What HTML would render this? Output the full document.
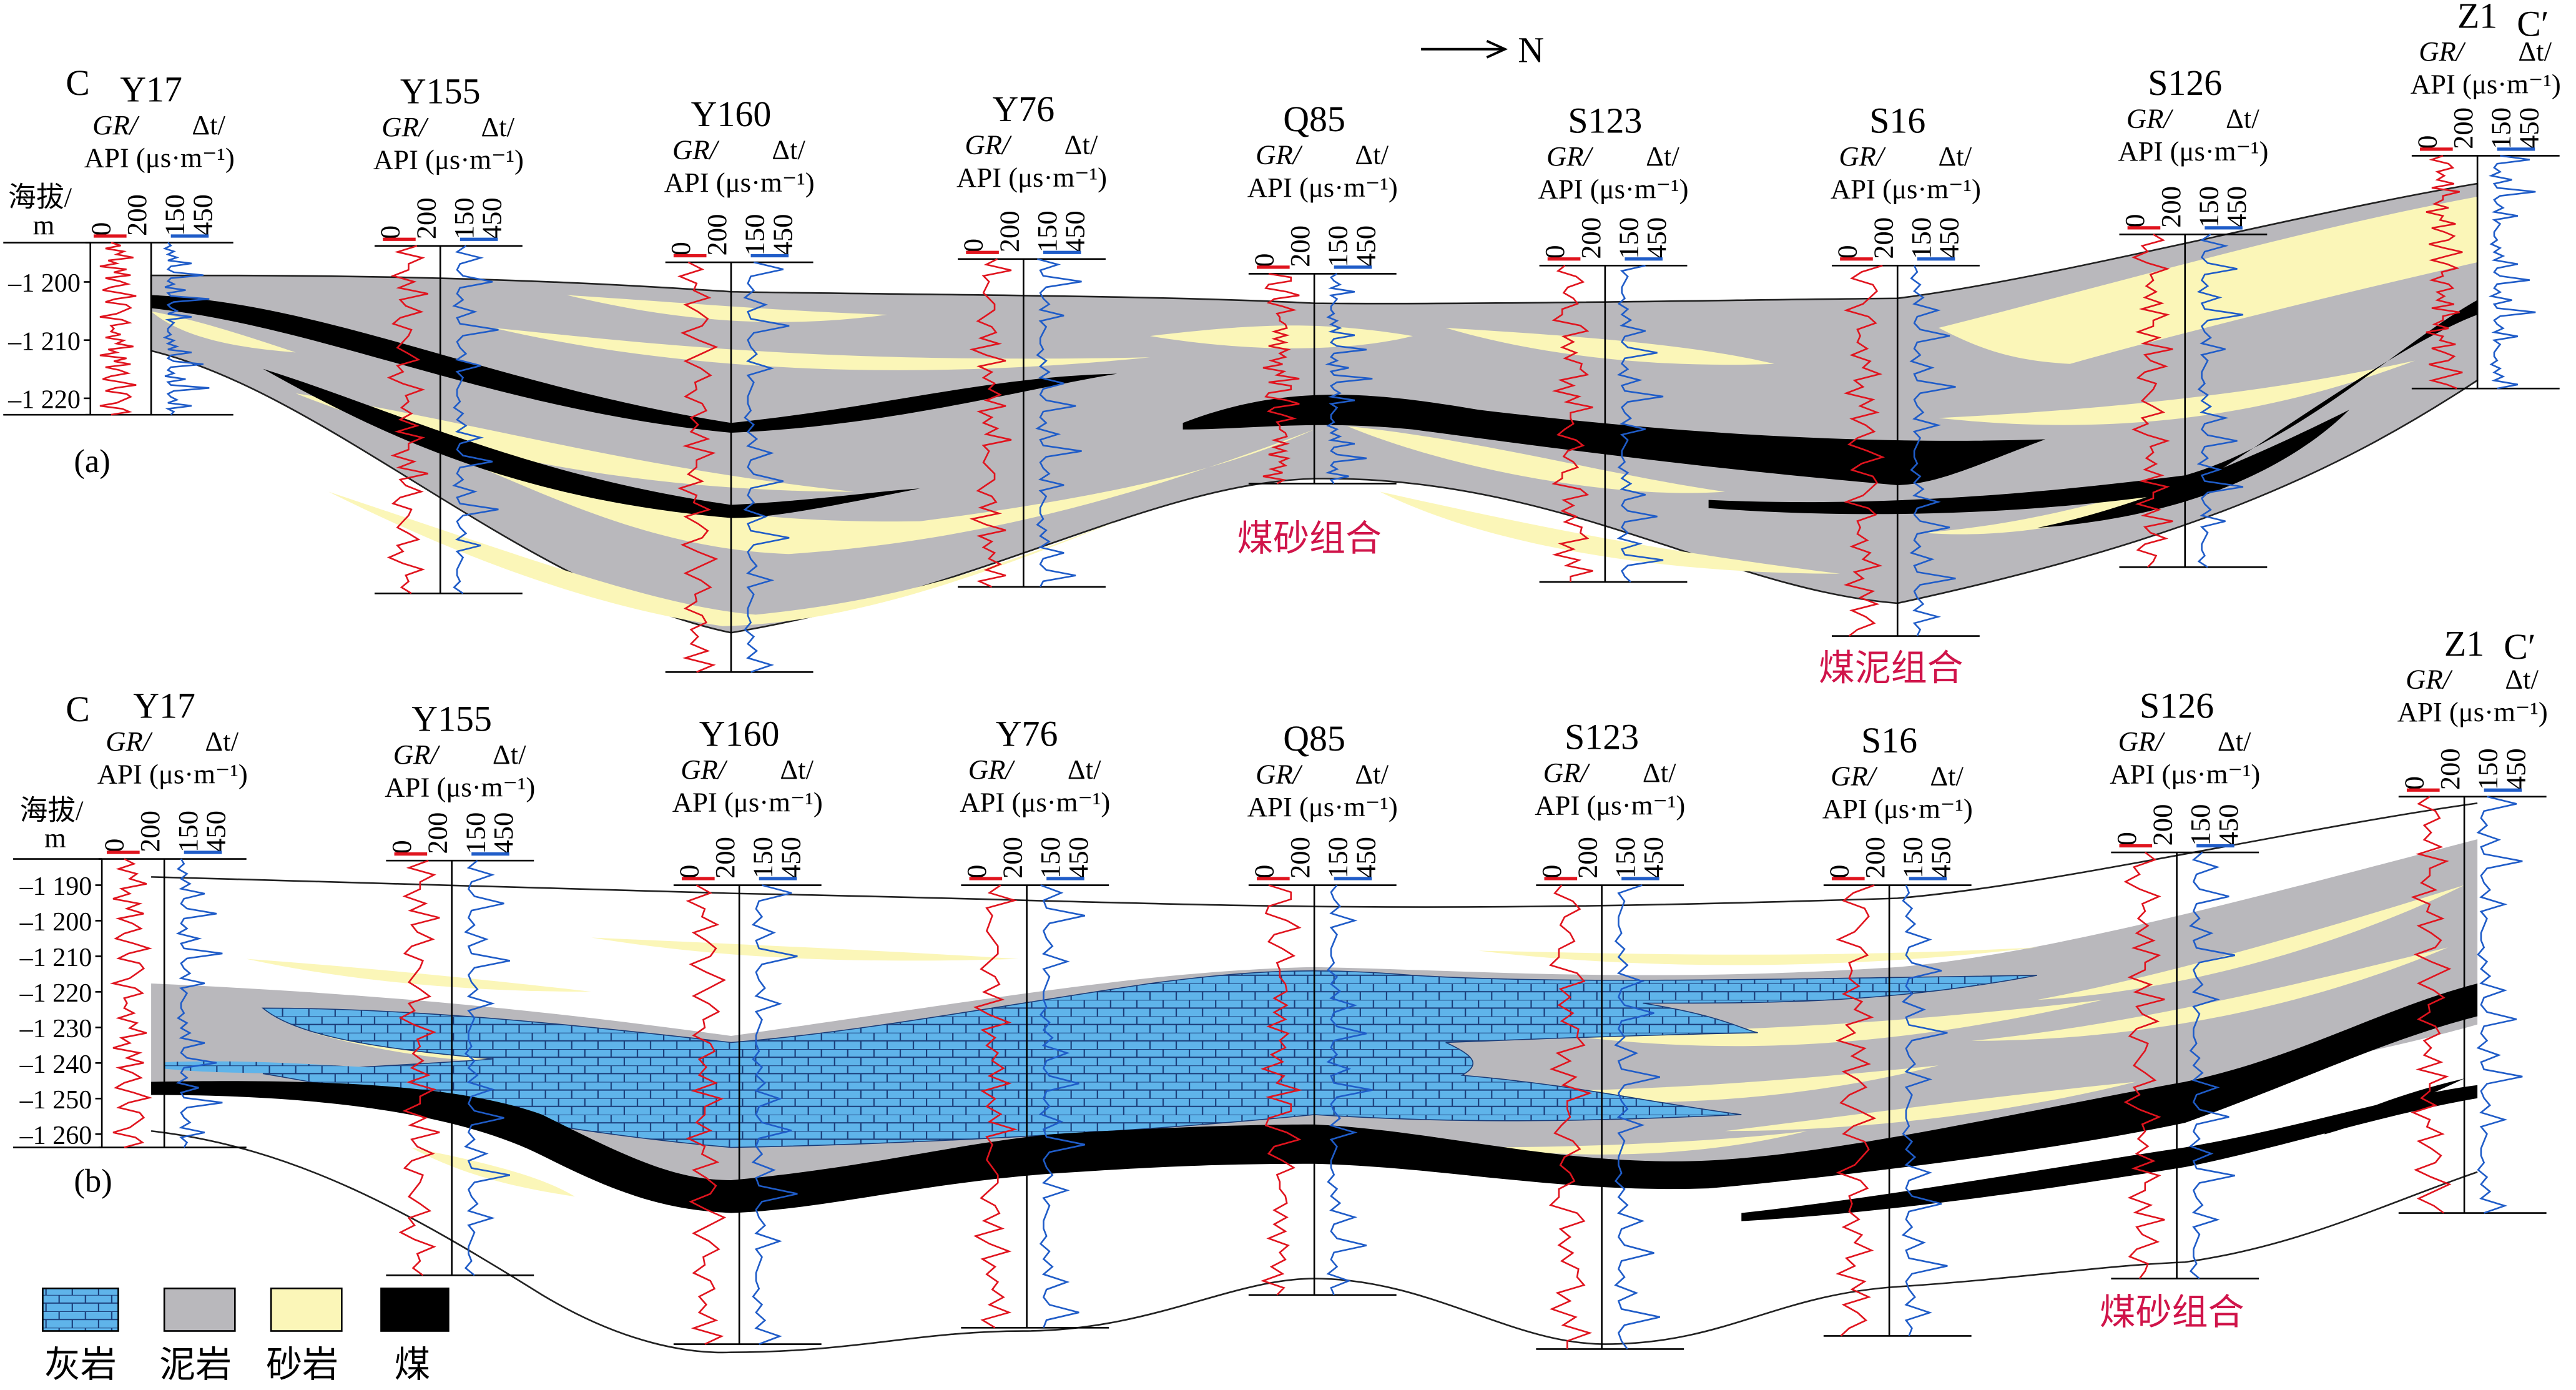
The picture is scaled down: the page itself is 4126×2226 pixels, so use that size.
<!DOCTYPE html>
<html><head><meta charset="utf-8">
<style>
html,body{margin:0;padding:0;background:#fff;}
svg{display:block;}
text{font-family:"Liberation Serif","Noto Serif CJK SC",serif;fill:#000;}
.cn{font-family:"Liberation Serif","Noto Sans CJK SC",sans-serif;}
</style></head>
<body>
<svg id="fig" xmlns="http://www.w3.org/2000/svg" width="4126" height="2226" viewBox="0 0 1568 848" preserveAspectRatio="none">
<defs>
<pattern id="lime" width="16" height="10" patternUnits="userSpaceOnUse">
<rect width="16" height="10" fill="#5fb4ea"/>
<path d="M0 0H16M0 5H16M4 0V5M12 5V10" stroke="#1a3c78" stroke-width="0.8" fill="none"/>
</pattern>
</defs>

<g>
<path fill="#b9b8bc" stroke="#222" stroke-width="1"
 d="M92 168 C180 168,300 168,445 178 C560 180,700 180,800 185 C900 186,1050 183,1155 182 C1250 170,1400 130,1508 112 L1508 232 C1420 290,1330 330,1155 368 C1050 360,950 290,800 292 C700 295,600 360,445 386 C320 360,200 240,92 214 Z"/>
<g fill="#fbf6b8">
<path d="M345 180 C420 185,480 190,540 192 C480 200,420 198,345 180Z"/>
<path d="M300 200 C400 210,500 222,700 218 C560 232,420 228,300 200Z"/>
<path d="M180 240 C280 255,380 285,520 300 C400 300,280 280,180 240Z"/>
<path d="M280 280 C380 300,430 320,560 318 C700 300,760 280,800 262 C700 300,600 330,480 338 C400 335,340 305,280 280Z"/>
<path d="M200 300 C320 340,400 370,460 375 C560 365,620 340,680 318 C600 350,520 380,440 382 C360 370,280 340,200 300Z"/>
<path d="M700 205 C760 198,800 195,860 205 C820 215,760 215,700 205Z"/>
<path d="M880 200 C960 205,1030 210,1080 222 C1000 225,930 215,880 200Z"/>
<path d="M820 260 C900 268,980 290,1050 300 C980 305,880 285,820 260Z"/>
<path d="M840 300 C930 320,1000 335,1120 350 C1000 350,900 330,840 300Z"/>
<path d="M1180 200 C1280 175,1400 140,1508 120 L1508 160 C1420 180,1320 205,1260 222 C1220 220,1200 210,1180 200Z"/>
<path d="M1180 255 C1280 250,1380 240,1470 220 C1390 250,1300 268,1180 255Z"/>
<path d="M1170 325 C1240 320,1300 300,1340 290 C1300 315,1230 330,1170 325Z"/>
<path d="M92 190 C120 195,150 205,180 215 C140 212,110 205,92 190Z"/>
</g>
<g fill="#000">
<path d="M92 180 C200 185,300 235,445 258 C540 248,600 230,680 228 C620 238,540 260,445 264 C300 250,200 200,92 188Z"/>
<path d="M720 258 C780 235,830 238,900 250 C1000 262,1120 272,1245 268 C1200 285,1180 295,1155 296 C1040 286,950 274,860 262 C800 256,760 262,720 262Z"/>
<path d="M160 225 C240 250,320 290,445 308 C500 305,530 300,560 298 C500 310,470 316,445 316 C320 305,240 270,160 225Z"/>
<path d="M1040 305 C1150 310,1250 300,1330 290 C1400 270,1460 210,1508 183 L1508 192 C1460 210,1380 270,1330 300 C1250 312,1150 318,1040 310Z"/>
<path d="M1240 322 C1300 310,1370 280,1430 250 C1400 280,1340 315,1240 322Z"/>
</g>
</g>

<g>
<path d="M92 535 C200 538,300 540,445 545 C600 548,700 552,800 553 C900 554,1000 553,1155 548 C1250 540,1400 505,1508 490" fill="none" stroke="#222" stroke-width="1"/>
<path d="M92 690 C180 700,250 740,330 790 C380 820,420 826,445 825 C520 825,560 812,623 812 C700 812,750 780,800 780 C870 780,920 820,977 820 C1050 820,1080 790,1155 785 C1230 780,1280 772,1330 770 C1400 760,1450 735,1508 715" fill="none" stroke="#222" stroke-width="1"/>
<path fill="#b9b8bc"
 d="M92 600 C200 605,300 612,445 632 C600 610,700 592,800 590 C900 592,1000 600,1155 590 C1250 582,1400 540,1508 512 L1508 625 C1420 650,1330 660,1155 705 C1050 715,980 715,800 690 C700 690,600 700,445 730 C330 700,250 665,92 660 Z"/>
<g fill="#fbf6b8">
<path d="M150 585 C220 590,300 598,360 605 C280 605,210 598,150 585Z"/>
<path d="M360 572 C450 576,540 580,620 585 C520 588,440 585,360 572Z"/>
<path d="M190 630 C250 640,300 645,340 648 C290 650,240 644,190 630Z"/>
<path d="M250 700 C300 710,330 718,350 730 C310 724,280 716,250 700Z"/>
<path d="M600 615 C680 610,760 605,860 615 C760 620,680 622,600 615Z"/>
<path d="M900 580 C1000 582,1100 585,1240 578 C1120 592,1000 592,900 580Z"/>
<path d="M940 630 C1050 630,1150 625,1280 610 C1150 640,1050 645,940 630Z"/>
<path d="M880 665 C980 668,1080 660,1180 650 C1080 675,980 678,880 665Z"/>
<path d="M900 700 C980 700,1060 695,1100 690 C1040 705,970 708,900 700Z"/>
<path d="M1240 610 C1320 595,1420 565,1500 540 C1430 575,1330 605,1240 610Z"/>
<path d="M1200 635 C1300 625,1400 600,1490 578 C1410 612,1310 635,1200 635Z"/>
<path d="M1050 690 C1130 680,1220 668,1300 660 C1220 680,1130 690,1050 690Z"/>
<path d="M540 630 C600 625,650 622,700 622 C650 630,590 634,540 630Z"/>
</g>
<path fill="url(#lime)" stroke="#1a3c78" stroke-width="0.6"
 d="M160 615 C250 615,350 625,445 636 C520 630,600 615,700 600 C760 592,800 590,860 595 C940 600,1050 598,1240 595 C1150 612,1080 612,1000 612 C1050 620,1060 628,1070 630 C980 632,930 634,880 636 C900 645,900 650,890 656 C960 662,1000 672,1060 680 C950 685,880 685,800 680 C700 690,560 698,445 700 C330 690,250 670,160 655 C230 650,280 648,300 646 C230 640,180 632,160 615Z"/>
<path d="M100 648 C150 646,200 650,240 652 C180 656,130 655,100 652Z" fill="url(#lime)"/>
<g fill="#000">
<path d="M92 660 C200 658,280 662,330 680 C380 705,410 720,445 720 C530 712,580 698,640 692 C700 688,760 686,800 686 C880 690,950 712,1040 708 C1120 704,1230 678,1330 660 C1400 645,1450 615,1508 600 L1508 620 C1450 635,1400 660,1330 685 C1250 702,1120 718,1040 725 C950 728,880 712,800 710 C740 710,700 712,640 716 C560 722,500 738,445 740 C400 738,370 725,330 705 C280 680,200 668,92 668Z"/>
<path d="M1060 740 C1150 730,1250 712,1330 700 C1400 688,1460 668,1508 662 L1508 670 C1450 680,1390 700,1330 712 C1250 725,1150 740,1060 745Z"/>
<path d="M1415 688 C1440 675,1470 665,1500 658 C1470 672,1440 685,1415 692Z"/>
</g>
</g>

<g id="wells"></g>
<g id="axes"></g>

<text x="40" y="58" font-size="22">C</text>
<text x="1532" y="22" font-size="22">C′</text>
<text x="40" y="440" font-size="22">C</text>
<text x="1524" y="402" font-size="22">C′</text>
<text x="45" y="288" font-size="20">(a)</text>
<text x="45" y="727" font-size="20">(b)</text>
<g>
<line x1="865" y1="30" x2="915" y2="30" stroke="#000" stroke-width="1.5"/>
<path d="M905 25 L916 30 L905 35" fill="none" stroke="#000" stroke-width="1.5"/>
<text x="924" y="38" font-size="22">N</text>
</g>
<text class="cn" x="753" y="336" font-size="22" style="fill:#d0144a">煤砂组合</text>
<text class="cn" x="1107" y="415" font-size="22" style="fill:#d0144a">煤泥组合</text>
<text class="cn" x="1278" y="808" font-size="22" style="fill:#d0144a">煤砂组合</text>
<text class="cn" x="5" y="126" font-size="17">海拔/</text>
<text x="20" y="143" font-size="17">m</text>
<text class="cn" x="12" y="500" font-size="17">海拔/</text>
<text x="27" y="517" font-size="17">m</text>

<g>
<g><rect x="26" y="786" width="46" height="26" fill="url(#lime)" stroke="#000"/><text class="cn" x="27" y="840" font-size="22">灰岩</text></g>
<g><rect x="100" y="786" width="43" height="26" fill="#b9b8bc" stroke="#000"/><text class="cn" x="97" y="840" font-size="22">泥岩</text></g>
<g><rect x="165" y="786" width="43" height="26" fill="#fbf6b8" stroke="#000"/><text class="cn" x="162" y="840" font-size="22">砂岩</text></g>
<g><rect x="232" y="786" width="41" height="26" fill="#000" stroke="#000"/><text class="cn" x="240" y="840" font-size="22">煤</text></g>
</g>
</svg>

<script>
const NS = "http://www.w3.org/2000/svg";
const wellNames = ["Y17","Y155","Y160","Y76","Q85","S123","S16","S126","Z1"];
const wellPosA = [92,268,445,623,800,977,1155,1330,1508];
const wellTopA = [148,150,160,158,167,162,162,143,95];
const wellBotA = [253,362,410,358,295,355,388,346,237];
const nameYA = [62,63,77,74,80,81,81,58,17];
const wellPosB = [100,275,450,625,800,975,1150,1325,1500];
const wellTopB = [524,525,540,540,540,540,540,520,486];
const wellBotB = [700,778,820,810,790,823,815,780,740];
const nameYB = [438,446,455,455,458,457,459,438,400];
const ticksA = [-1200,-1210,-1220];
const ticksB = [-1190,-1200,-1210,-1220,-1230,-1240,-1250,-1260];
const grPattern = [0.4,0.6,0.3,0.7,0.5,0.8,0.35,0.55,0.2,0.65,0.45,0.9,0.3,0.5,0.7,0.4,0.25,0.6,0.85,0.45,0.3,0.55,0.75,0.35,0.5,0.2,0.6,0.8,0.4,0.55];
const dtPattern = [0.2,0.25,0.15,0.3,0.2,0.35,0.2,0.6,0.25,0.2,0.3,0.8,0.25,0.2,0.3,0.15,0.5,0.2,0.25,0.9,0.3,0.2,0.25,0.35,0.2,0.6,0.2,0.3,0.25,0.2];

const wells = document.getElementById('wells');
function mk(tag, attrs, parent){ const e=document.createElementNS(NS,tag); for(const k in attrs) e.setAttribute(k,attrs[k]); parent.appendChild(e); return e; }
function txt(parent,x,y,s,size,extra){ const t=mk('text',Object.assign({x:x,y:y,'font-size':size},extra||{}),parent); t.textContent=s; return t; }

function drawWell(i, x, top, bot, ny, panel){
  const g = mk('g',{},wells);
  
  
  const n = txt(g, x, ny, wellNames[i], 22, {'text-anchor':'middle'});
  
  
  txt(g, x-22, ny+20, 'GR/', 17, {'text-anchor':'middle','font-style':'italic'});
  txt(g, x+35, ny+20, 'Δt/', 17, {'text-anchor':'middle'});
  txt(g, x+5, ny+40, 'API (μs·m⁻¹)', 17, {'text-anchor':'middle'});
  [['0',x-30],['200',x-8],['150',x+15],['450',x+32]].forEach(p=>{
    txt(g, p[1]+5, top-4, p[0], 17, {transform:'rotate(-90 '+(p[1]+5)+' '+(top-4)+')'});
  });
  mk('line',{x1:x-35,y1:top-4,x2:x-15,y2:top-4,stroke:'#e0141e','stroke-width':2},g);
  mk('line',{x1:x+12,y1:top-4,x2:x+35,y2:top-4,stroke:'#1f5cc8','stroke-width':2},g);
  mk('line',{x1:x-40,y1:top,x2:x+50,y2:top,stroke:'#000','stroke-width':1},g);
  mk('line',{x1:x-40,y1:bot,x2:x+50,y2:bot,stroke:'#000','stroke-width':1},g);
  mk('line',{x1:x,y1:top,x2:x,y2:bot,stroke:'#000','stroke-width':1},g);
  const N = grPattern.length, step=(bot-top)/((N-1)*2);
  let gp=[], dp=[];
  for(let k=0;k<(N-1)*2+1;k++){
    const a = grPattern[(k+i*3)%N], b = grPattern[(k*7+i)%N];
    const gv = k%2 ? (a*0.5+b*0.5) : a;
    gp.push((x-38+gv*34).toFixed(1)+','+(top+k*step).toFixed(1));
    const d1 = dtPattern[(k+i*5)%N];
    dp.push((x+3+d1*36).toFixed(1)+','+(top+k*step).toFixed(1));
  }
  const gr = mk('polyline',{points:gp.join(' '),fill:'none',stroke:'#e0141e','stroke-width':1},g);
  
  
  const dt = mk('polyline',{points:dp.join(' '),fill:'none',stroke:'#1f5cc8','stroke-width':1},g);
  
  
}
wellNames.forEach((n,i)=>{
  drawWell(i, wellPosA[i], wellTopA[i], wellBotA[i], nameYA[i], 'a');
  drawWell(i, wellPosB[i], wellTopB[i], wellBotB[i], nameYB[i], 'b');
});

const axes = document.getElementById('axes');
function yA(v){ return 172 + (-1200 - v) * 3.55; }
function yB(v){ return 540 + (-1190 - v) * 2.17; }
function drawAxis(ticks, fy, x0, x1, top, bot, panel){
  const g = mk('g',{},axes);
  
  
  mk('line',{x1:x1,y1:top,x2:x1,y2:bot,stroke:'#000','stroke-width':1},g);
  mk('line',{x1:x0,y1:top,x2:x1,y2:top,stroke:'#000','stroke-width':1},g);
  mk('line',{x1:x0,y1:bot,x2:x1,y2:bot,stroke:'#000','stroke-width':1},g);
  ticks.forEach(v=>{
    const y = fy(v);
    mk('line',{x1:x1-4,y1:y,x2:x1,y2:y,stroke:'#000'},g);
    const s = String(v).replace('-1','–1 ');
    const t = txt(g, x1-6, y+6, s, 16, {'text-anchor':'end'});
    
    
  });
}
drawAxis(ticksA, yA, 2, 55, 148, 253, 'a');
drawAxis(ticksB, yB, 8, 62, 524, 700, 'b');
</script>
</body></html>
